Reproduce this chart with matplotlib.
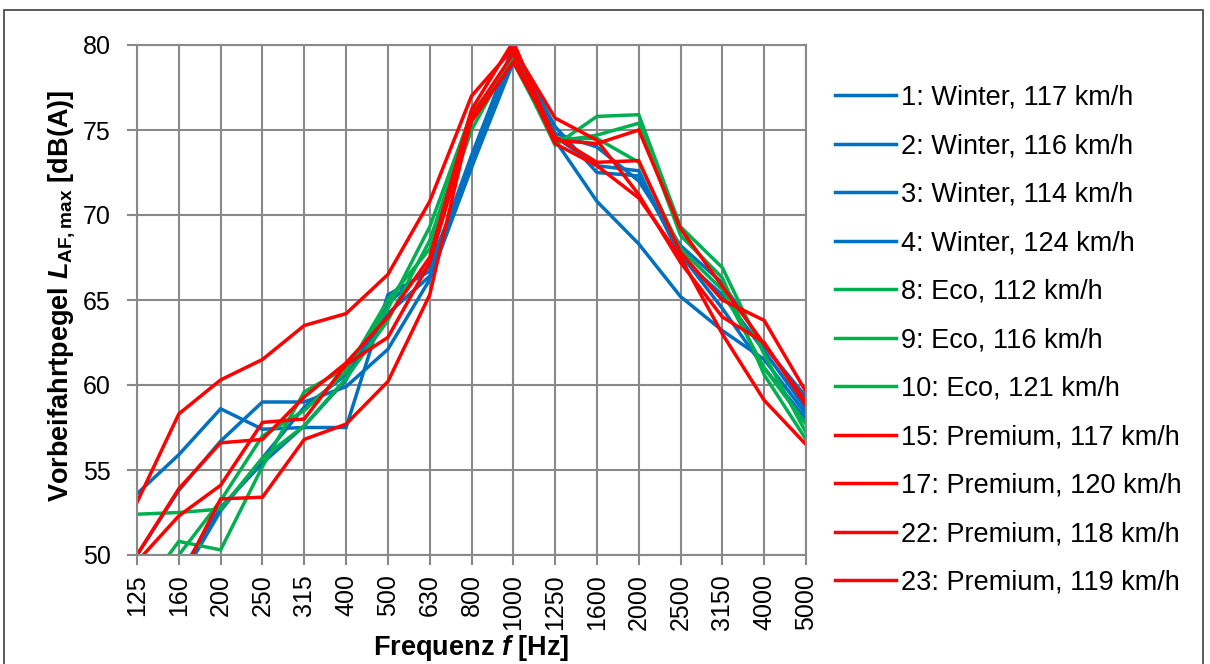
import matplotlib
matplotlib.use("Agg")
import matplotlib.pyplot as plt
from matplotlib.patches import Rectangle
import numpy as np

plt.rcParams['font.family'] = ['Liberation Sans', 'DejaVu Sans']
plt.rcParams['mathtext.fontset'] = 'custom'
plt.rcParams['mathtext.rm'] = 'Liberation Sans:bold'
plt.rcParams['mathtext.it'] = 'Liberation Sans:italic:bold'
plt.rcParams['mathtext.bf'] = 'Liberation Sans:bold'

# Terzband-Mittenfrequenzen
freqs = ['125', '160', '200', '250', '315', '400', '500', '630', '800', '1000',
         '1250', '1600', '2000', '2500', '3150', '4000', '5000']

labels = ['1: Winter, 117 km/h', '2: Winter, 116 km/h', '3: Winter, 114 km/h',
          '4: Winter, 124 km/h', '8: Eco, 112 km/h', '9: Eco, 116 km/h',
          '10: Eco, 121 km/h', '15: Premium, 117 km/h', '17: Premium, 120 km/h',
          '22: Premium, 118 km/h', '23: Premium, 119 km/h']

# Pegel je Messung [dB(A)]
w1 = [53.6, 55.9, 58.6, 57.4, 57.5, 57.5, 65.3, 66.7, 73.5, 79.8, 75.2, 72.5, 72.3, 67.7, 64.5, 61.0, 58.0]
w2 = [50.0, 53.8, 56.7, 59.0, 59.0, 59.9, 62.1, 66.2, 72.8, 79.5, 74.8, 74.0, 72.0, 68.2, 66.0, 62.3, 59.3]
w3 = [47.5, 48.8, 52.8, 55.4, 57.6, 60.3, 64.8, 67.0, 73.2, 80.0, 74.4, 70.8, 68.3, 65.2, 63.2, 61.5, 58.3]
w4 = [46.5, 48.4, 52.6, 55.7, 58.7, 60.6, 64.2, 66.4, 72.8, 79.0, 74.6, 72.9, 72.6, 67.5, 65.3, 62.0, 58.6]
e8 = [52.4, 52.5, 52.7, 55.7, 57.6, 60.4, 63.8, 68.5, 75.8, 79.2, 74.1, 75.8, 75.9, 69.3, 66.9, 61.8, 57.2]
e9 = [47.5, 50.8, 50.3, 55.2, 59.6, 61.0, 64.5, 69.3, 76.0, 79.0, 74.3, 74.7, 75.4, 68.8, 66.3, 60.6, 56.8]
e10 = [46.0, 50.0, 53.2, 57.0, 58.5, 60.8, 65.0, 68.0, 75.0, 79.5, 74.5, 74.5, 73.1, 68.0, 65.6, 61.0, 57.7]
p15 = [53.1, 58.3, 60.3, 61.5, 63.5, 64.2, 66.5, 70.8, 77.0, 79.8, 75.7, 74.4, 71.2, 67.2, 64.0, 62.5, 58.8]
p17 = [50.0, 53.9, 56.6, 56.8, 59.3, 61.3, 64.0, 67.5, 76.2, 80.2, 74.4, 74.2, 75.0, 69.2, 65.8, 62.4, 59.0]
p22 = [49.6, 52.3, 54.1, 57.8, 58.0, 61.2, 62.8, 67.2, 75.5, 79.0, 74.6, 73.1, 73.2, 67.8, 65.0, 63.8, 59.6]
p23 = [46.5, 48.5, 53.3, 53.4, 56.8, 57.7, 60.2, 65.3, 75.8, 79.5, 74.2, 72.9, 71.0, 67.5, 63.0, 59.1, 56.5]

series = [w1, w2, w3, w4, e8, e9, e10, p15, p17, p22, p23]
colors = ['#0070C0'] * 4 + ['#00B050'] * 3 + ['#FF0000'] * 4

grid_col = '#898989'

fig = plt.figure(figsize=(12.1, 6.64), dpi=100)
ax = fig.add_axes([137 / 1210, 109 / 664, 669 / 1210, 510 / 664])

x = np.arange(len(freqs))
for vals, col, lab in zip(series, colors, labels):
    ax.plot(x, vals, color=col, lw=2.5, label=lab, solid_joinstyle='miter')

ax.set_xlim(0, len(freqs) - 1)
ax.set_ylim(50, 80)
ax.set_xticks(x)
ax.set_xticklabels(freqs, rotation=90, fontsize=18)
ax.set_yticks(np.arange(50, 81, 5))
ax.tick_params(axis='y', labelsize=18, length=7, width=1.5, color=grid_col, pad=12)
ax.tick_params(axis='x', length=7, width=1.5, color=grid_col, pad=7)
ax.grid(True, color=grid_col, lw=1.5)
ax.set_axisbelow(True)
for s in ax.spines.values():
    s.set_color(grid_col)
    s.set_linewidth(1.5)

ax.set_xlabel(r'Frequenz $\mathit{f}$ [Hz]', fontsize=19.5, fontweight='bold', labelpad=2)
ax.set_ylabel(r'Vorbeifahrtpegel $\mathit{L}_{\mathrm{AF,max}}$ [dB(A)]',
              fontsize=19.5, fontweight='bold')
ax.yaxis.set_label_coords(-0.090, 0.508)

fig.legend(loc='upper left', bbox_to_anchor=(824 / 1210, 1 - 74 / 664),
           frameon=False, fontsize=19.5, handlelength=2.25, handletextpad=0.18,
           labelspacing=0.83, borderaxespad=0)

# Rahmen um die Grafik
fig.patches.append(Rectangle((4 / 1210, -0.1), 1199 / 1210, 1.1 - 10 / 664,
                             transform=fig.transFigure, fill=False,
                             edgecolor='#404040', lw=1.2))

fig.savefig('out.png', dpi=100)
